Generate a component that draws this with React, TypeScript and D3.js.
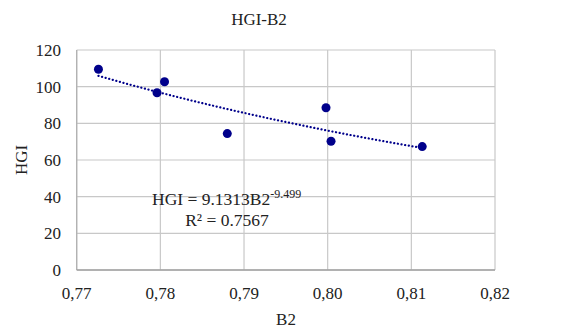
import React from "react";
import * as d3 from "d3";

const b2Values = [0.7726, 0.7796, 0.7805, 0.788, 0.7998, 0.8004, 0.8113];
const hgiValues = [109.5, 96.7, 102.7, 74.4, 88.5, 70.2, 67.3];
const xTicks = [0.77, 0.78, 0.79, 0.8, 0.81, 0.82];
const yTicks = [0, 20, 40, 60, 80, 100, 120];
const coefA = 9.1313;
const coefB = -9.499;
const titleText = "HGI-B2";
const xLabel = "B2";
const yLabel = "HGI";

export default function App() {
  const W = 582, H = 331;
  const left = 76.7, right = 495, top = 50, bottom = 270;
  const x = d3.scaleLinear().domain([0.77, 0.82]).range([left, right]);
  const y = d3.scaleLinear().domain([0, 120]).range([bottom, top]);
  const font = "'Liberation Serif', 'Times New Roman', serif";
  const navy = "#00008B";

  const xMin = d3.min(b2Values)!, xMax = d3.max(b2Values)!;
  const trendPts = d3.range(0, 101).map((i) => {
    const xv = xMin + ((xMax - xMin) * i) / 100;
    return [xv, coefA * Math.pow(xv, coefB)] as [number, number];
  });
  const line = d3.line<[number, number]>().x((d) => x(d[0])).y((d) => y(d[1]));

  const fmtX = (v: number) => v.toFixed(2).replace(".", ",");

  return (
    <svg width={W} height={H} style={{ position: "absolute", left: 0, top: 0, background: "#fff" }} fontFamily={font}>
      <text x={259} y={25} textAnchor="middle" fontSize={17} fill="#222">{titleText}</text>
      {yTicks.map((t) => (
        <line key={"gy" + t} x1={left} x2={right} y1={y(t)} y2={y(t)} stroke="#c8c8c8" strokeWidth={1.2} />
      ))}
      {xTicks.map((t) => (
        <line key={"gx" + t} x1={x(t)} x2={x(t)} y1={top} y2={bottom} stroke="#c8c8c8" strokeWidth={1.2} />
      ))}
      <line x1={left} x2={left} y1={top} y2={bottom} stroke="#b0b0b0" strokeWidth={1.2} />
      <line x1={left} x2={right} y1={bottom} y2={bottom} stroke="#a0a0a0" strokeWidth={1.5} />
      {yTicks.map((t) => (
        <text key={"ty" + t} x={61} y={y(t) + 6} textAnchor="end" fontSize={17} fill="#222">{t}</text>
      ))}
      {xTicks.map((t) => (
        <text key={"tx" + t} x={x(t)} y={299} textAnchor="middle" fontSize={17} fill="#222">{fmtX(t)}</text>
      ))}
      <text x={286} y={325} textAnchor="middle" fontSize={17} fill="#222">{xLabel}</text>
      <text transform={`translate(27,${(top + bottom) / 2}) rotate(-90)`} textAnchor="middle" fontSize={17} fill="#222">{yLabel}</text>
      <path d={line(trendPts)!} fill="none" stroke={navy} strokeWidth={2.2} strokeDasharray="0.1 3.6" strokeLinecap="round" />
      {b2Values.map((b, i) => (
        <circle key={"p" + i} cx={x(b)} cy={y(hgiValues[i])} r={4.5} fill={navy} />
      ))}
      <text x={152} y={205} fontSize={17.5} fill="#222">
        HGI = 9.1313B2<tspan dy={-7} fontSize={12}>-9.499</tspan>
      </text>
      <text x={227} y={226} textAnchor="middle" fontSize={17.5} fill="#222">R² = 0.7567</text>
    </svg>
  );
}
